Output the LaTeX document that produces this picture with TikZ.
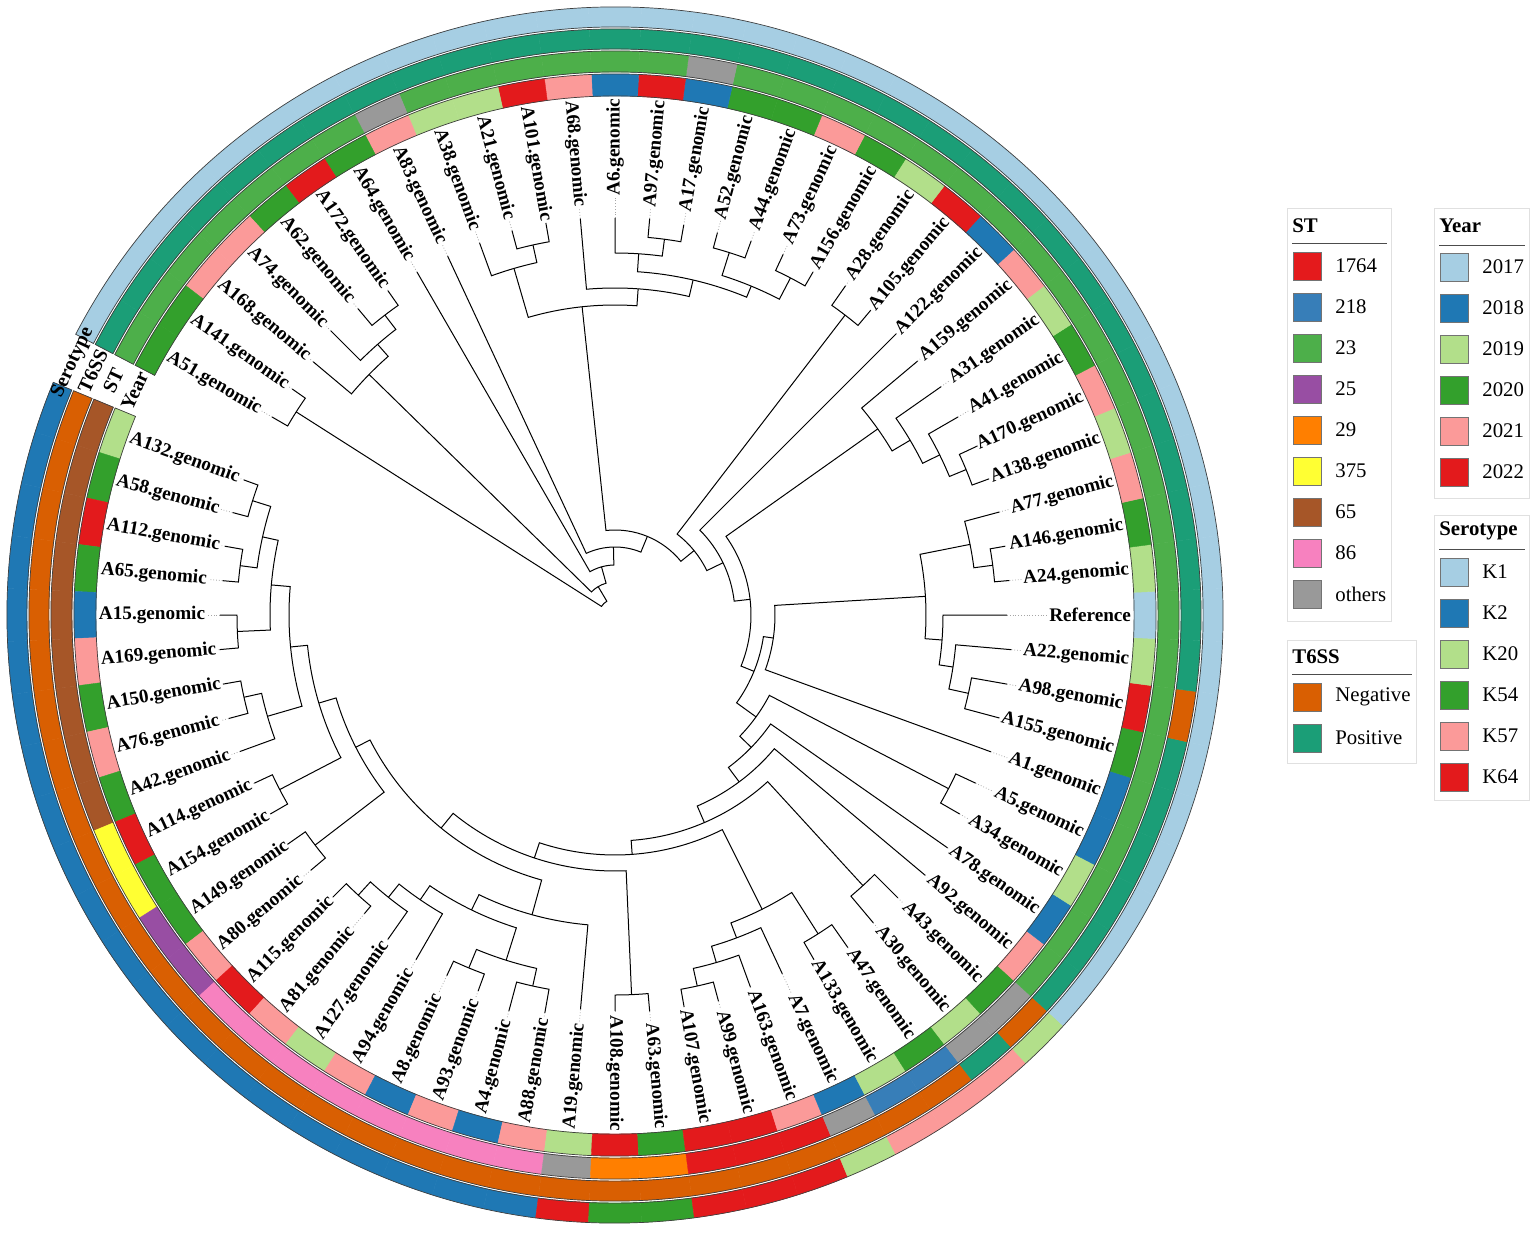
\documentclass[tikz,border=0pt]{standalone}
\usepackage{fontspec}
\setmainfont{Liberation Serif}
\usepackage{tikz}

\definecolor{lblue}{HTML}{A6CEE3}
\definecolor{dblue}{HTML}{1F78B4}
\definecolor{lgreen}{HTML}{B2DF8A}
\definecolor{dgreen}{HTML}{33A02C}
\definecolor{lred}{HTML}{FB9A99}
\definecolor{dred}{HTML}{E31A1C}
\definecolor{st1764}{HTML}{E41A1C}
\definecolor{st218}{HTML}{377EB8}
\definecolor{st23}{HTML}{4DAF4A}
\definecolor{st25}{HTML}{984EA3}
\definecolor{st29}{HTML}{FF7F00}
\definecolor{st375}{HTML}{FFFF33}
\definecolor{st65}{HTML}{A65628}
\definecolor{st86}{HTML}{F781BF}
\definecolor{stoth}{HTML}{999999}
\definecolor{tneg}{HTML}{D95F02}
\definecolor{tpos}{HTML}{1B9E77}

\tikzset{
  treeline/.style={draw=black, line width=0.5pt},
  tipdots/.style={draw=black!35, densely dotted, line width=0.4pt},
  ringedge/.style={draw=black!75, line width=0.35pt},
  leaflab/.style={inner sep=0.8pt, font=\fontsize{9.6}{11}\selectfont\bfseries},
  ringlab/.style={inner sep=0pt, font=\fontsize{10}{11}\selectfont\bfseries},
  legframe/.style={draw=black!12, line width=0.5pt},
  legrule/.style={draw=black!70, line width=0.4pt},
  legtitle/.style={anchor=west, inner sep=0pt, font=\fontsize{10.4}{12}\selectfont\bfseries},
  legtext/.style={anchor=west, inner sep=0pt, font=\fontsize{10.4}{12}\selectfont},
  keybox/.style={draw=black!55, line width=0.3pt, minimum size=14pt, inner sep=0pt}
}

\newcommand{\clade}[5]{\draw[treeline] (#2:#3) -- (#2:#1) arc[start angle=#2, end angle=#4, radius=#1] -- (#4:#5);}

\newcommand{\ringband}[3]{%
  \foreach \col [count=\k] in {#3} {%
    \pgfmathsetmacro\angA{152.5+5*\k}%
    \pgfmathsetmacro\angB{157.5+5*\k}%
    \fill[\col, draw=\col, line width=0.2pt] (\angA:#1) arc[start angle=\angA, end angle=\angB, radius=#1] -- (\angB:#2) arc[start angle=\angB, end angle=\angA, radius=#2] -- cycle;
  }%
  \draw[ringedge] (157.5:#1) arc[start angle=157.5, end angle=512.5, radius=#1] -- (512.5:#2) arc[start angle=512.5, end angle=157.5, radius=#2] -- cycle;
}

\begin{document}
\begin{tikzpicture}[x=0.5pt, y=0.5pt]
\useasboundingbox (-615,-617) rectangle (921,615);

\ringband{519}{541}{lgreen,dgreen,dred,dgreen,dblue,lred,dgreen,lred,dgreen,dred,dgreen,dgreen,lred,dred,lred,lgreen,lred,dblue,lred,dblue,lred,lgreen,dred,dgreen,dred,dred,lred,dblue,lgreen,dgreen,lgreen,dgreen,lred,dblue,lgreen,dblue,dblue,dgreen,dred,lgreen,lblue,lgreen,dgreen,lred,lgreen,lred,dgreen,lgreen,lred,dblue,dred,lgreen,dgreen,lred,dgreen,dgreen,dblue,dred,dblue,lred,dred,lgreen,lgreen,lred,dgreen,dred,dgreen,lred,lred,dgreen,dgreen}
\ringband{543}{564}{st65,st65,st65,st65,st65,st65,st65,st65,st65,st375,st375,st25,st25,st86,st86,st86,st86,st86,st86,st86,st86,stoth,st29,st29,st1764,st1764,st1764,stoth,st218,st218,stoth,stoth,st23,st23,st23,st23,st23,st23,st23,st23,st23,st23,st23,st23,st23,st23,st23,st23,st23,st23,st23,st23,st23,st23,st23,st23,stoth,st23,st23,st23,st23,st23,st23,stoth,st23,st23,st23,st23,st23,st23,st23}
\ringband{566}{586}{tneg,tneg,tneg,tneg,tneg,tneg,tneg,tneg,tneg,tneg,tneg,tneg,tneg,tneg,tneg,tneg,tneg,tneg,tneg,tneg,tneg,tneg,tneg,tneg,tneg,tneg,tneg,tneg,tneg,tneg,tpos,tneg,tpos,tpos,tpos,tpos,tpos,tpos,tneg,tpos,tpos,tpos,tpos,tpos,tpos,tpos,tpos,tpos,tpos,tpos,tpos,tpos,tpos,tpos,tpos,tpos,tpos,tpos,tpos,tpos,tpos,tpos,tpos,tpos,tpos,tpos,tpos,tpos,tpos,tpos,tpos}
\ringband{588}{608}{dblue,dblue,dblue,dblue,dblue,dblue,dblue,dblue,dblue,dblue,dblue,dblue,dblue,dblue,dblue,dblue,dblue,dblue,dblue,dblue,dblue,dred,dgreen,dgreen,dred,dred,dred,lgreen,lred,lred,lred,lgreen,lblue,lblue,lblue,lblue,lblue,lblue,lblue,lblue,lblue,lblue,lblue,lblue,lblue,lblue,lblue,lblue,lblue,lblue,lblue,lblue,lblue,lblue,lblue,lblue,lblue,lblue,lblue,lblue,lblue,lblue,lblue,lblue,lblue,lblue,lblue,lblue,lblue,lblue,lblue}

\node[ringlab, rotate=65] (yearhead) at (155:530) {Year};
\node[ringlab, rotate=65] (sthead) at (155:553.5) {ST};
\node[ringlab, rotate=65] (t6head) at (155:576) {T6SS};
\node[ringlab, rotate=65] (serohead) at (155:598) {Serotype};

\clade{378}{510}{396}{505}{394}
\clade{378}{490}{400}{485}{396}
\clade{360}{495}{402}{487.5}{378}
\clade{344}{500}{394}{491.25}{360}
\clade{379}{465}{398}{460}{398}
\clade{361}{470}{396}{462.5}{379}
\clade{379}{445}{398}{440}{396}
\clade{362}{450}{397}{442.5}{379}
\clade{380}{435}{396}{430}{398}
\clade{380}{425}{398}{420}{396}
\clade{356}{432.5}{380}{422.5}{380}
\clade{344}{446.25}{362}{427.5}{356}
\clade{327}{455}{398}{436.88}{344}
\clade{310}{466.25}{361}{445.94}{327}
\clade{378}{415}{402}{410}{398}
\clade{380}{385}{400}{380}{398}
\clade{362}{390}{396}{382.5}{380}
\clade{343}{395}{398}{386.25}{362}
\clade{322}{400}{395}{390.63}{343}
\clade{381}{370}{396}{365}{396}
\clade{362}{375}{398}{367.5}{381}
\clade{362}{350}{398}{345}{398}
\clade{342}{355}{398}{347.5}{362}
\clade{328}{360}{392}{351.25}{342}
\clade{311}{371.25}{362}{355.63}{328}
\clade{160}{363.44}{311}{340}{400}
\clade{376}{335}{398}{330}{398}
\clade{367}{315}{400}{310}{402}
\clade{378}{305}{406}{300}{398}
\clade{380}{285}{400}{280}{398}
\clade{362}{290}{396}{282.5}{380}
\clade{345}{295}{396}{286.25}{362}
\clade{329}{302.5}{378}{290.63}{345}
\clade{380}{275}{398}{270}{396}
\clade{380}{260}{404}{255}{410}
\clade{382}{250}{400}{245}{398}
\clade{362}{257.5}{380}{247.5}{382}
\clade{380}{165}{396}{160}{395}
\clade{378}{175}{394}{170}{396}
\clade{361}{172.5}{378}{162.5}{380}
\clade{378}{185}{397}{180}{395}
\clade{345}{182.5}{378}{167.5}{361}
\clade{380}{195}{400}{190}{398}
\clade{362}{200}{399}{192.5}{380}
\clade{326}{196.25}{362}{175}{345}
\clade{378}{210}{398}{205}{398}
\clade{309}{207.5}{378}{185.63}{326}
\clade{378}{220}{397}{215}{400}
\clade{291}{217.5}{378}{196.56}{309}
\clade{380}{230}{390}{225}{399}
\clade{362}{235}{396}{227.5}{380}
\clade{345}{240}{398}{231.25}{362}
\clade{328}{252.5}{362}{235.63}{345}
\clade{311}{265}{396}{244.06}{328}
\clade{275}{254.53}{311}{207.03}{291}
\clade{256}{272.5}{380}{230.78}{275}
\clade{240}{296.56}{329}{251.64}{256}
\clade{226}{312.5}{367}{274.1}{240}
\clade{208}{320}{405}{293.3}{226}
\clade{190}{325}{406}{306.65}{208}
\clade{174}{332.5}{376}{315.83}{190}
\clade{150}{351.72}{160}{324.16}{174}
\clade{136}{395.31}{322}{337.94}{150}
\clade{120}{405}{398}{366.63}{136}
\clade{102}{412.5}{378}{385.81}{120}
\clade{85}{456.09}{310}{399.16}{102}
\clade{68}{475}{396}{427.63}{85}
\clade{50}{480}{396}{451.3}{68}
\clade{33}{495.63}{344}{465.66}{50}
\clade{16}{507.5}{378}{480.64}{33}

\foreach \nm/\tp [count=\k] in {A132.genomic/395, A58.genomic/396, A112.genomic/396, A65.genomic/394, A15.genomic/395, A169.genomic/397, A150.genomic/398, A76.genomic/400, A42.genomic/399, A114.genomic/398, A154.genomic/398, A149.genomic/400, A80.genomic/397, A115.genomic/399, A81.genomic/390, A127.genomic/396, A94.genomic/398, A8.genomic/398, A93.genomic/400, A4.genomic/410, A88.genomic/404, A19.genomic/396, A108.genomic/396, A63.genomic/398, A107.genomic/398, A99.genomic/400, A163.genomic/396, A7.genomic/396, A133.genomic/398, A47.genomic/406, A30.genomic/402, A43.genomic/400, A92.genomic/405, A78.genomic/406, A34.genomic/398, A5.genomic/398, A1.genomic/400, A155.genomic/398, A98.genomic/398, A22.genomic/398, Reference/392, A24.genomic/396, A146.genomic/396, A77.genomic/398, A138.genomic/398, A170.genomic/400, A41.genomic/396, A31.genomic/398, A159.genomic/395, A122.genomic/398, A105.genomic/398, A28.genomic/402, A156.genomic/396, A73.genomic/398, A44.genomic/398, A52.genomic/396, A17.genomic/396, A97.genomic/398, A6.genomic/397, A68.genomic/398, A101.genomic/398, A21.genomic/398, A38.genomic/396, A83.genomic/396, A64.genomic/396, A172.genomic/396, A62.genomic/400, A74.genomic/402, A168.genomic/394, A141.genomic/394, A51.genomic/396} {
  \pgfmathsetmacro\ang{155+5*\k}
  \pgfmathtruncatemacro\flip{(mod(\ang,360)>90)&&(mod(\ang,360)<270)}
  \coordinate (t\k) at (\ang:\tp);
  \ifnum\flip=1
    \pgfmathsetmacro\rot{\ang+180}
    \node[leaflab, anchor=west, rotate=\rot] (l\k) at (\ang:518) {\nm};
    \draw[tipdots] (t\k) -- (l\k.east);
  \else
    \node[leaflab, anchor=east, rotate=\ang] (l\k) at (\ang:518) {\nm};
    \draw[tipdots] (t\k) -- (l\k.west);
  \fi
}

\draw[legframe] (672,406) rectangle (776,-6);
\node[legtitle] (sttitle) at (677,389) {ST};
\draw[legrule] (677,372) -- (772,372);
\foreach \col/\txt [count=\k] in {st1764/1764, st218/218, st23/23, st25/25, st29/29, st375/375, st65/65, st86/86, stoth/others} {
  \node[keybox, fill=\col] (stkey\k) at (692,{390-41*\k}) {};
  \node[legtext] (stlab\k) at (720,{390-41*\k}) {\txt};
}

\draw[legframe] (672,-25) rectangle (801,-148);
\node[legtitle] (t6title) at (677,-42) {T6SS};
\draw[legrule] (677,-59) -- (797,-59);
\foreach \col/\txt [count=\k] in {tneg/Negative, tpos/Positive} {
  \node[keybox, fill=\col] (t6key\k) at (692,{-41-41*\k}) {};
  \node[legtext] (t6lab\k) at (720,{-41-41*\k}) {\txt};
}

\draw[legframe] (819,406) rectangle (914,117);
\node[legtitle] (yeartitle) at (824,389) {Year};
\draw[legrule] (824,370) -- (910,370);
\foreach \col/\txt [count=\k] in {lblue/2017, dblue/2018, lgreen/2019, dgreen/2020, lred/2021, dred/2022} {
  \node[keybox, fill=\col] (yearkey\k) at (839,{389-41*\k}) {};
  \node[legtext] (yearlab\k) at (867,{389-41*\k}) {\txt};
}

\draw[legframe] (819,100) rectangle (914,-185);
\node[legtitle] (serotitle) at (824,84) {Serotype};
\draw[legrule] (824,66) -- (910,66);
\foreach \col/\txt [count=\k] in {lblue/K1, dblue/K2, lgreen/K20, dgreen/K54, lred/K57, dred/K64} {
  \node[keybox, fill=\col] (serokey\k) at (839,{84-41*\k}) {};
  \node[legtext] (serolab\k) at (867,{84-41*\k}) {\txt};
}
\end{tikzpicture}
\end{document}
